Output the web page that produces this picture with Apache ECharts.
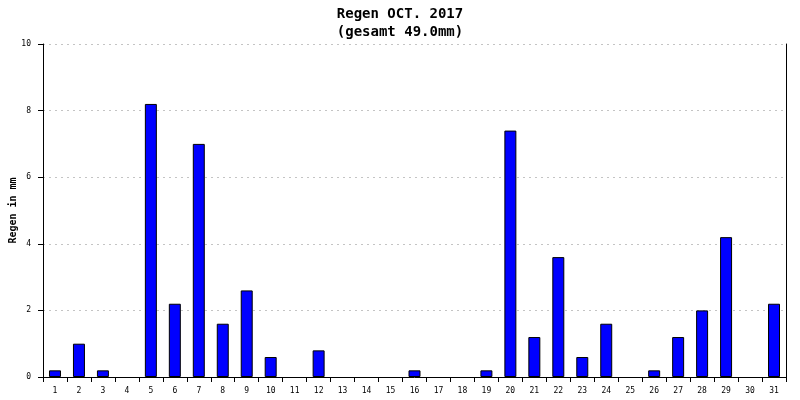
<!DOCTYPE html>
<html>
<head>
<meta charset="utf-8">
<script src="https://cdn.jsdelivr.net/npm/echarts@6/dist/echarts.min.js"></script>
<style>
  html, body { margin: 0; padding: 0; background: #fff; }
  #chart { width: 800px; height: 400px; }
</style>
</head>
<body>
<div id="chart"></div>
<script>
// Tage im Oktober 2017
var days = [];
for (var d = 1; d <= 31; d++) days.push(String(d));
// Regen in mm pro Tag
var rain = [0.2, 1.0, 0.2, 0, 8.2, 2.2, 7.0, 1.6, 2.6, 0.6, 0, 0.8, 0, 0, 0, 0.2,
  0, 0, 0.2, 7.4, 1.2, 3.6, 0.6, 1.6, 0, 0.2, 1.2, 2.0, 4.2, 0, 2.2];
var titleLines = ["Regen OCT. 2017", "(gesamt 49.0mm)"];
var yName = "Regen in mm";

var font = "DejaVu Sans Mono";
var chart = echarts.init(document.getElementById("chart"));
var option = {
  animation: false,
  backgroundColor: "#fff",
  title: {
    text: titleLines.join("\n"),
    left: "center",
    top: 0,
    textStyle: {
      fontFamily: font,
      fontSize: 14,
      fontWeight: "bold",
      color: "#000",
      lineHeight: 18
    }
  },
  grid: { left: 43, right: 14, top: 44, bottom: 23, outerBoundsMode: "none" },
  xAxis: {
    type: "category",
    data: days,
    axisLine: { lineStyle: { color: "#000", width: 1 } },
    axisTick: { show: true, length: 5, lineStyle: { color: "#000" } },
    axisLabel: {
      fontFamily: font,
      fontSize: 8,
      color: "#000",
      margin: 10,
      interval: 0
    },
    splitLine: { show: false }
  },
  yAxis: [
    {
      type: "value",
      min: 0,
      max: 10,
      interval: 2,
      name: yName,
      nameLocation: "middle",
      nameGap: 25,
      nameMoveOverlap: false,
      nameTextStyle: {
        fontFamily: font,
        fontSize: 10,
        fontWeight: "bold",
        color: "#000"
      },
      axisLine: { show: true, lineStyle: { color: "#000" } },
      axisTick: { show: true, length: 5, lineStyle: { color: "#000" } },
      axisLabel: {
        fontFamily: font,
        fontSize: 8,
        color: "#000",
        margin: 12
      },
      splitLine: {
        show: true,
        lineStyle: { color: "#c4c4c4", type: [2, 4] }
      }
    },
    {
      type: "value",
      min: 0,
      max: 10,
      interval: 2,
      position: "right",
      axisLine: { show: true, lineStyle: { color: "#000" } },
      axisTick: { show: false },
      axisLabel: { show: false },
      splitLine: { show: false }
    }
  ],
  series: [
    {
      type: "bar",
      // Tage ohne Regen: kein Balken
      data: rain.map(function (v) { return v === 0 ? null : v; }),
      barWidth: "50%",
      itemStyle: {
        color: "#0000ff",
        borderColor: "#000",
        borderWidth: 1
      }
    }
  ]
};
chart.setOption(option);
</script>
</body>
</html>
